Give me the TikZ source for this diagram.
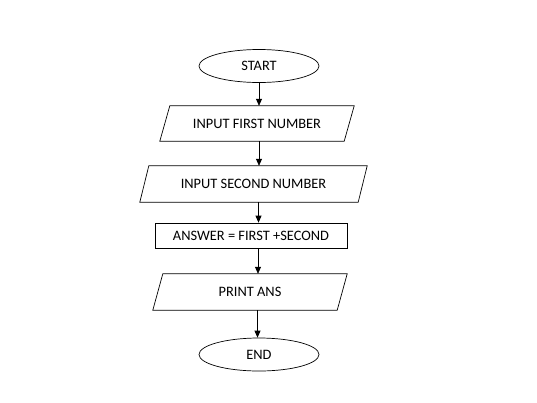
\documentclass[tikz,border=0pt]{standalone}
\usepackage{fontspec}
\setmainfont{Carlito}
\usetikzlibrary{shapes.geometric,arrows.meta}

\tikzset{
  term/.style={ellipse, draw, line width=0.7pt, minimum width=120pt, minimum height=33pt, inner sep=0pt},
  iobox/.style={rectangle, inner sep=0pt},
  ioline/.style={line width=0.7pt, line join=miter},
  procbox/.style={rectangle, draw, line width=0.7pt, inner sep=0pt},
  flow/.style={-{Triangle[length=7pt,width=6pt]}, line width=0.7pt}
}

\begin{document}
\begin{tikzpicture}[x=1pt, y=1pt, font=\fontsize{14.4}{17}\selectfont]
\useasboundingbox (0,0) rectangle (537,-402);

%% ---- Terminali ----
\node[term] (start) at (259,-66) {START};
\node[term] (end)   at (259,-354.5) {END};

%% ---- Input / output ----
\node[iobox, minimum width=184pt, minimum height=35pt] (in1) at (257,-123.5) {INPUT FIRST NUMBER};
\draw[ioline] ([xshift=5pt]in1.north west) -- ([xshift=5pt]in1.north east)
  -- ([xshift=-5pt]in1.south east) -- ([xshift=-5pt]in1.south west) -- cycle;

\node[iobox, minimum width=218pt, minimum height=36pt] (in2) at (253.5,-184) {INPUT SECOND NUMBER};
\draw[ioline] ([xshift=4.5pt]in2.north west) -- ([xshift=4.5pt]in2.north east)
  -- ([xshift=-4.5pt]in2.south east) -- ([xshift=-4.5pt]in2.south west) -- cycle;

%% ---- Calcolo ----
\node[procbox, minimum width=192pt, minimum height=25pt] (sum) at (251,-235.5) {ANSWER = FIRST +SECOND};

%% ---- Output ----
\node[iobox, minimum width=184pt, minimum height=36pt] (prt) at (250,-292) {PRINT ANS};
\draw[ioline] ([xshift=5pt]prt.north west) -- ([xshift=5pt]prt.north east)
  -- ([xshift=-5pt]prt.south east) -- ([xshift=-5pt]prt.south west) -- cycle;

%% ---- Frecce ----
\draw[flow] (start.south) -- (start.south |- in1.north);
\draw[flow] (start.south |- in1.south) -- (start.south |- in2.north);
\draw[flow] ([xshift=-0.5pt]start.south |- in2.south) -- ([xshift=-0.5pt]start.south |- sum.north);
\draw[flow] ([xshift=-1pt]start.south |- sum.south) -- ([xshift=-1pt]start.south |- prt.north);
\draw[flow] ([xshift=-1.5pt]start.south |- prt.south) -- ([xshift=-1.5pt]end.north);

\end{tikzpicture}
\end{document}
